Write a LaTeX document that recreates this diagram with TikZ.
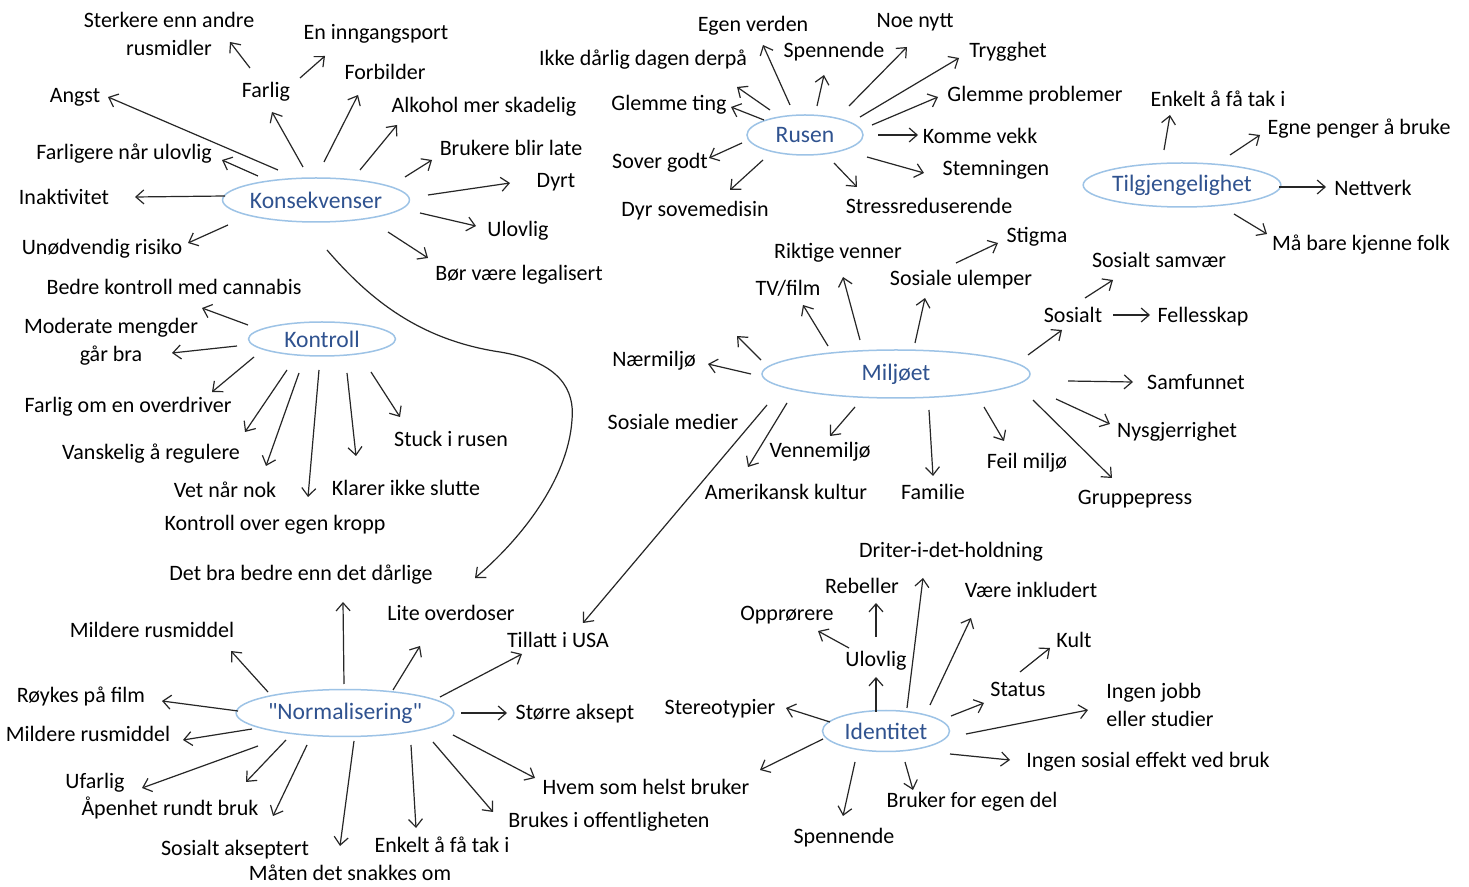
\documentclass[tikz,border=0pt]{standalone}
\usepackage{fontspec}
\setmainfont{Carlito}
\newfontfamily\hubfont{Carlito}[Ligatures=ResetAll]
\usetikzlibrary{shapes.geometric,arrows.meta,calc}
\definecolor{hubtext}{HTML}{2F528F}
\definecolor{hubline}{HTML}{9DC3E6}
\newcommand{\lnk}[4]{\draw[arr] ($(#1)+(#2)$) -- ($(#3)+(#4)$);}
\begin{document}
\begin{tikzpicture}[x=0.5pt,y=-0.5pt,
  lbl/.style={inner sep=0pt, font=\fontsize{11}{14}\selectfont, text height=0.95em, text depth=0.18em},
  lbltwo/.style={inner sep=0pt, font=\fontsize{11}{14}\selectfont, align=center},
  hub/.style={ellipse, draw=hubline, line width=0.75pt, inner sep=0pt, text=hubtext, font=\hubfont\fontsize{11.8}{14}\selectfont},
  arr/.style={-{Straight Barb[length=4pt,width=7pt]}, line width=0.6pt, draw=black!85}]
\fill[white] (0,0) rectangle (1469,887);
\useasboundingbox (0,0) rectangle (1469,887);

% ---------- hubs ----------
\node[hub, minimum width=84pt, minimum height=22pt] (kons) at (316,200) {Konsekvenser};
\node[hub, minimum width=73.5pt, minimum height=17pt] (kontr) at (322,339) {Kontroll};
\node[hub, minimum width=58pt, minimum height=20pt] (rusen) at (805,135) {Rusen};
\node[hub, minimum width=85.5pt, minimum height=22pt] (tilg) at (1182,185) {Tilgjengelighet};
\node[hub, minimum width=134pt, minimum height=24pt] (miljo) at (896,374) {Miljøet};
\node[hub, minimum width=105pt, minimum height=23.5pt] (norm) at (345,713) {"Normalisering"};
\node[hub, minimum width=63.5pt, minimum height=20.5pt] (ident) at (886,731) {Identitet};

% ---------- Konsekvenser ----------
\node[lbltwo] (sterkere) at (169,34) {Sterkere enn andre\\rusmidler};
\node[lbl] (inngang) at (376,32) {En inngangsport};
\node[lbl] (farlig) at (266,90) {Farlig};
\node[lbl] (forbilder) at (385,72) {Forbilder};
\node[lbl] (angst) at (75,95) {Angst};
\node[lbl] (alkohol) at (484,105) {Alkohol mer skadelig};
\node[lbl] (brukere) at (511,148) {Brukere blir late};
\node[lbl] (farligere) at (124,152) {Farligere når ulovlig};
\node[lbl] (dyrt) at (556,180) {Dyrt};
\node[lbl] (inaktiv) at (64,197) {Inaktivitet};
\node[lbl] (ulovliga) at (518,229) {Ulovlig};
\node[lbl] (unodv) at (102,247) {Unødvendig risiko};
\node[lbl] (borvaere) at (519,273) {Bør være legalisert};

\lnk{farlig}{-16,-22}{sterkere}{61,8}
\lnk{farlig}{34,-12}{inngang}{-51,24}
\lnk{kons}{-13,-33}{farlig}{6,22}
\lnk{kons}{8,-38}{forbilder}{-27,23}
\lnk{kons}{-38,-30}{angst}{33,2}
\lnk{kons}{44,-30}{alkohol}{-87,20}
\lnk{kons}{89,-23}{brukere}{-79,12}
\lnk{kons}{-58,-24}{farligere}{98,8}
\lnk{kons}{112,-5}{dyrt}{-46,3}
\lnk{kons}{-91,-4}{inaktiv}{71,0}
\lnk{kons}{104,13}{ulovliga}{-42,-3}
\lnk{kons}{-88,25}{unodv}{86,-4}
\lnk{kons}{72,32}{borvaere}{-91,-15}

% ---------- Kontroll ----------
\node[lbl] (bedre) at (174,287) {Bedre kontroll med cannabis};
\node[lbltwo] (moderate) at (111,342) {Moderate mengder\\går bra};
\node[lbl] (farligom) at (128,405) {Farlig om en overdriver};
\node[lbl] (vansk) at (151,452) {Vanskelig å regulere};
\node[lbl] (stuck) at (451,439) {Stuck i rusen};
\node[lbl] (vet) at (225,490) {Vet når nok};
\node[lbl] (klarer) at (406,488) {Klarer ikke slutte};
\node[lbl] (kontrollover) at (275,523) {Kontroll over egen kropp};

\lnk{kontr}{-74,-14}{bedre}{28,21}
\lnk{kontr}{-85,7}{moderate}{61,11}
\lnk{kontr}{-68,18}{farligom}{84,-13}
\lnk{kontr}{-35,31}{vansk}{94,-20}
\lnk{kontr}{-23,34}{vet}{41,-24}
\lnk{kontr}{-3,31}{kontrollover}{33,-26}
\lnk{kontr}{25,34}{klarer}{-50,-32}
\lnk{kontr}{49,33}{stuck}{-51,-22}

% ---------- Rusen ----------
\node[lbl] (egen) at (753,24) {Egen verden};
\node[lbl] (noenytt) at (915,20) {Noe nytt};
\node[lbl] (spenna) at (834,50) {Spennende};
\node[lbl] (ikke) at (643,58) {Ikke dårlig dagen derpå};
\node[lbl] (trygg) at (1008,50) {Trygghet};
\node[lbl] (glemmeting) at (669,103) {Glemme ting};
\node[lbl] (glemmeprob) at (1035,94) {Glemme problemer};
\node[lbl] (komme) at (980,136) {Komme vekk};
\node[lbl] (sover) at (660,161) {Sover godt};
\node[lbl] (stemn) at (996,168) {Stemningen};
\node[lbl] (dyrsov) at (695,209) {Dyr sovemedisin};
\node[lbl] (stress) at (929,206) {Stressreduserende};

\lnk{rusen}{-15,-30}{egen}{10,21}
\lnk{rusen}{12,-29}{spenna}{-10,25}
\lnk{rusen}{44,-29}{noenytt}{-8,27}
\lnk{rusen}{55,-18}{trygg}{-49,8}
\lnk{rusen}{-35,-25}{ikke}{94,29}
\lnk{rusen}{-41,-15}{glemmeting}{62,4}
\lnk{rusen}{67,-10}{glemmeprob}{-97,3}
\lnk{rusen}{73,0}{komme}{-62,-1}
\lnk{rusen}{62,22}{stemn}{-72,5}
\lnk{rusen}{29,28}{stress}{-72,-19}
\lnk{rusen}{-63,8}{sover}{49,-3}
\lnk{rusen}{-42,25}{dyrsov}{35,-19}

% ---------- Tilgjengelighet ----------
\node[lbl] (enkelta) at (1218,99) {Enkelt å få tak i};
\node[lbl] (egne) at (1359,127) {Egne penger å bruke};
\node[lbl] (nettverk) at (1373,188) {Nettverk};
\node[lbl] (mabare) at (1361,243) {Må bare kjenne folk};

\lnk{tilg}{-18,-35}{enkelta}{-48,16}
\lnk{tilg}{48,-30}{egne}{-99,8}
\lnk{tilg}{97,2}{nettverk}{-47,-1}
\lnk{tilg}{52,29}{mabare}{-94,-9}

% ---------- Miljøet ----------
\node[lbl] (stigma) at (1037,235) {Stigma};
\node[lbl] (riktige) at (838,251) {Riktige venner};
\node[lbl] (samvaer) at (1159,260) {Sosialt samvær};
\node[lbl] (ulemper) at (961,278) {Sosiale ulemper};
\node[lbl] (tvfilm) at (788,288) {TV/film};
\node[lbl] (sosialt) at (1073,315) {Sosialt};
\node[lbl] (felles) at (1203,315) {Fellesskap};
\node[lbl] (naermiljo) at (654,359) {Nærmiljø};
\node[lbl] (samfunnet) at (1196,382) {Samfunnet};
\node[lbl] (sosmedier) at (673,422) {Sosiale medier};
\node[lbl] (nysgj) at (1177,430) {Nysgjerrighet};
\node[lbl] (venne) at (820,450) {Vennemiljø};
\node[lbl] (feil) at (1027,461) {Feil miljø};
\node[lbl] (amerik) at (786,492) {Amerikansk kultur};
\node[lbl] (familie) at (933,492) {Familie};
\node[lbl] (gruppe) at (1135,497) {Gruppepress};
\coordinate (freeend) at (737,336);

\lnk{ulemper}{-5,-15}{stigma}{-39,8}
\lnk{miljo}{19,-31}{ulemper}{-36,20}
\lnk{miljo}{-36,-34}{riktige}{5,26}
\lnk{miljo}{-68,-28}{tvfilm}{15,17}
\lnk{miljo}{-135,-14}{freeend}{0,0}
\lnk{miljo}{-145,0}{naermiljo}{54,5}
\lnk{miljo}{132,-19}{sosialt}{-11,15}
\lnk{sosialt}{12,-17}{samvaer}{-46,20}
\lnk{sosialt}{40,0}{felles}{-53,0}
\lnk{miljo}{172,7}{samfunnet}{-63,0}
\lnk{miljo}{160,25}{nysgj}{-67,-6}
\lnk{miljo}{137,26}{gruppe}{-23,-19}
\lnk{miljo}{88,33}{feil}{-23,-20}
\lnk{miljo}{33,36}{familie}{0,-16}
\lnk{miljo}{-41,33}{venne}{10,-14}
\lnk{miljo}{-109,29}{amerik}{-38,-25}

% ---------- Normalisering ----------
\node[lbl] (detbra) at (301,573) {Det bra bedre enn det dårlige};
\node[lbl] (lite) at (451,613) {Lite overdoser};
\node[lbl] (mildera) at (152,630) {Mildere rusmiddel};
\node[lbl] (tillatt) at (558,640) {Tillatt i USA};
\node[lbl] (roykes) at (81,695) {Røykes på film};
\node[lbl] (storre) at (575,712) {Større aksept};
\node[lbl] (milderb) at (88,734) {Mildere rusmiddel};
\node[lbl] (ufarlig) at (95,781) {Ufarlig};
\node[lbl] (hvem) at (646,787) {Hvem som helst bruker};
\node[lbl] (apenhet) at (170,808) {Åpenhet rundt bruk};
\node[lbl] (brukes) at (609,820) {Brukes i offentligheten};
\node[lbl] (sosakt) at (235,848) {Sosialt akseptert};
\node[lbl] (enkeltb) at (442,845) {Enkelt å få tak i};
\node[lbl] (maten) at (350,873) {Måten det snakkes om};

\lnk{miljo}{-129,31}{tillatt}{25,-17}
\lnk{norm}{-1,-29}{detbra}{42,29}
\lnk{norm}{48,-23}{lite}{-31,33}
\lnk{norm}{95,-16}{tillatt}{-36,14}
\lnk{norm}{-77,-21}{mildera}{79,21}
\lnk{norm}{-107,-2}{roykes}{81,6}
\lnk{norm}{116,0}{storre}{-68,1}
\lnk{norm}{-93,16}{milderb}{95,6}
\lnk{norm}{-87,33}{ufarlig}{47,7}
\lnk{norm}{-59,27}{apenhet}{76,-26}
\lnk{norm}{-38,32}{sosakt}{38,-32}
\lnk{norm}{9,28}{maten}{-10,-27}
\lnk{norm}{66,32}{enkeltb}{-26,-17}
\lnk{norm}{88,29}{brukes}{-116,-8}
\lnk{norm}{108,22}{hvem}{-111,-9}

% curved connector Konsekvenser -> Det bra ...
\draw[arr] ($(kons)+(11,50)$) .. controls (370,300) and (420,340) .. (500,352)
  .. controls (560,362) and (575,390) .. (572,420)
  .. controls (568,480) and (520,540) .. ($(detbra)+(174,5)$);

% ---------- Identitet ----------
\node[lbl] (driter) at (951,550) {Driter-i-det-holdning};
\node[lbl] (rebeller) at (862,586) {Rebeller};
\node[lbl] (vaere) at (1031,590) {Være inkludert};
\node[lbl] (opprorere) at (787,613) {Opprørere};
\node[lbl] (kult) at (1074,640) {Kult};
\node[lbl] (ulovligb) at (876,659) {Ulovlig};
\node[lbl] (status) at (1018,689) {Status};
\node[lbltwo, align=left] (ingenjobb) at (1160,705) {Ingen jobb\\eller studier};
\node[lbl] (stereo) at (720,707) {Stereotypier};
\node[lbl] (ingensos) at (1148,760) {Ingen sosial effekt ved bruk};
\node[lbl] (brukeregen) at (972,800) {Bruker for egen del};
\node[lbl] (spennb) at (844,836) {Spennende};

\lnk{ident}{-10,-19}{ulovligb}{0,18}
\lnk{ulovligb}{0,-22}{rebeller}{14,17}
\lnk{ulovligb}{-27,-11}{opprorere}{31,18}
\lnk{ident}{21,-23}{driter}{-28,28}
\lnk{ident}{44,-26}{vaere}{-60,28}
\lnk{ident}{65,-15}{status}{-34,14}
\lnk{status}{2,-17}{kult}{-24,8}
\lnk{ident}{80,3}{ingenjobb}{-72,5}
\lnk{ident}{64,23}{ingensos}{-138,0}
\lnk{ident}{19,31}{brukeregen}{-59,-10}
\lnk{ident}{-31,31}{spennb}{-1,-20}
\lnk{ident}{-56,-9}{stereo}{66,1}
\lnk{ident}{-63,8}{hvem}{114,-17}
\end{tikzpicture}
\end{document}
